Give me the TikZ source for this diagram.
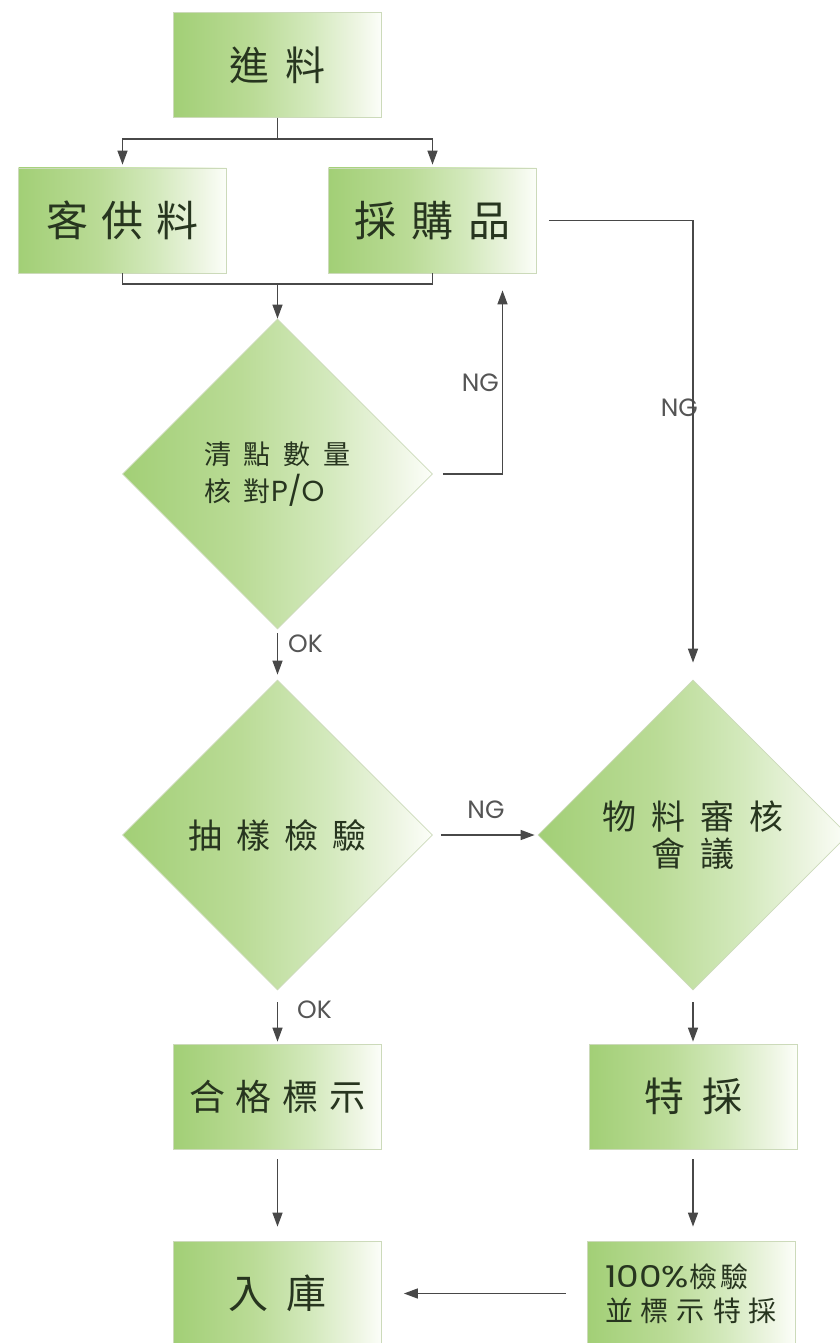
\documentclass[tikz,border=0pt]{standalone}
\usepackage{fontspec}
\setmainfont{Noto Sans CJK TC}
\newfontfamily\lat{Poppins}
\newfontfamily\latw[FakeStretch=1.2]{Poppins}
\usetikzlibrary{arrows.meta,shapes.geometric}
\definecolor{gL}{HTML}{A2CF76}
\definecolor{gA}{HTML}{BADB96}
\definecolor{gB}{HTML}{D3E9BC}
\definecolor{gC}{HTML}{EDF5E2}
\definecolor{gR}{HTML}{FCFEF9}
\definecolor{edge}{HTML}{CCDABA}
\definecolor{ink}{HTML}{27351F}
\definecolor{linec}{HTML}{484848}
\definecolor{labc}{HTML}{555555}
\pgfdeclarehorizontalshading{gfade}{100bp}{color(0bp)=(gL); color(25bp)=(gL); color(44bp)=(gA); color(58bp)=(gB); color(69bp)=(gC); color(75bp)=(gR); color(100bp)=(gR)}
\newcommand\setfs[1]{\fontsize{#1}{#1}\selectfont}
\tikzset{
  box/.style={rectangle, shading=gfade, draw=edge, line width=0.8pt, minimum width=208pt, minimum height=105pt, inner sep=0pt, text=ink},
  dia/.style={diamond, aspect=1, shading=gfade, draw=edge, line width=0.8pt, minimum width=310pt, minimum height=310pt, inner sep=0pt, text=ink},
  conn/.style={draw=linec, line width=1.4pt},
  arr/.style={conn, -{Triangle[length=14pt,width=10pt]}},
  lab/.style={font=\lat\setfs{25}, text=labc, inner sep=0pt},
}
\begin{document}
\begin{tikzpicture}[x=1pt,y=-1pt]
\useasboundingbox (0,0) rectangle (839,1343);
\fill[white] (0,0) rectangle (839,1343);

% boxes
\node[box] (jin) at (277.5,65) {\setfs{40}進\hspace{16pt}料};
\node[box] (kegong) at (122.5,220.5) {\setfs{42}客\hspace{13pt}供\hspace{13pt}料};
\node[box] (caigou) at (432.5,220.5) {\setfs{42}採\hspace{15pt}購\hspace{15pt}品};
\node[box] (hege) at (277.5,1096.5) {\setfs{36}合\hspace{11pt}格\hspace{11pt}標\hspace{11pt}示};
\node[box] (tecai) at (693,1096.5) {\setfs{40}特\hspace{18pt}採};
\node[box] (ruku) at (277.5,1293.5) {\setfs{40}入\hspace{18pt}庫};
\node[box, align=left] (check) at (691,1293.5) {\setfs{28}{\latw\setfs{30}100\%}檢\hspace{3pt}驗\\[7pt]\setfs{28}並\hspace{8pt}標\hspace{8pt}示\hspace{8pt}特\hspace{8pt}採};

% diamonds
\node[dia, align=left] (d1) at (277.5,474) {\setfs{27}清\hspace{13pt}點\hspace{13pt}數\hspace{13pt}量\\[6pt]\setfs{27}核\hspace{13pt}對{\lat\setfs{29}P/O}};
\node[dia] (d2) at (277.5,835) {\setfs{34}抽\hspace{14pt}樣\hspace{14pt}檢\hspace{14pt}驗};
\node[dia, align=center] (d3) at (693,835) {\setfs{34}物\hspace{15pt}料\hspace{15pt}審\hspace{15pt}核\\[4pt]\setfs{34}會\hspace{15pt}議};

% labels
\node[lab, anchor=east] (ng1) at (499,383) {NG};
\node[lab, anchor=east] (ng2) at (698,408) {NG};
\node[lab, anchor=west] (ok1) at (288,644) {OK};
\node[lab] (ng3) at (486,810) {NG};
\node[lab, anchor=west] (ok2) at (297,1010) {OK};

% connectors
\coordinate (split) at (277.5,139);
\coordinate (merge) at (277.5,284);
\draw[conn] (jin.south) -- (split);
\draw[arr, shorten >=3pt] (split) -| (kegong.north);
\draw[arr, shorten >=3pt] (split) -| (caigou.north);
\draw[conn] (kegong.south) |- (merge);
\draw[conn] (caigou.south) |- (merge);
\draw[arr] (merge) -- (d1.north);
\draw[arr, shorten <=10pt, shorten >=17pt] (d1.east) -| ([xshift=70pt]caigou.south);
\draw[arr, shorten <=12pt, shorten >=17pt] (caigou.east) -| (d3.north);
\draw[arr, shorten <=4pt, shorten >=5pt] (d1.south) -- (d2.north);
\draw[arr, shorten <=8pt, shorten >=3pt] (d2.east) -- (d3.west);
\draw[arr, shorten <=12pt, shorten >=2pt] (d2.south) -- (hege.north);
\draw[arr, shorten <=12pt, shorten >=2pt] (d3.south) -- (tecai.north);
\draw[arr, shorten <=10pt, shorten >=14pt] (hege.south) -- (ruku.north);
\draw[arr, shorten <=10pt, shorten >=14pt] (tecai.south) -- (tecai.south |- check.north);
\draw[arr, shorten <=21pt, shorten >=22pt] (check.west) -- (ruku.east);
\end{tikzpicture}
\end{document}
